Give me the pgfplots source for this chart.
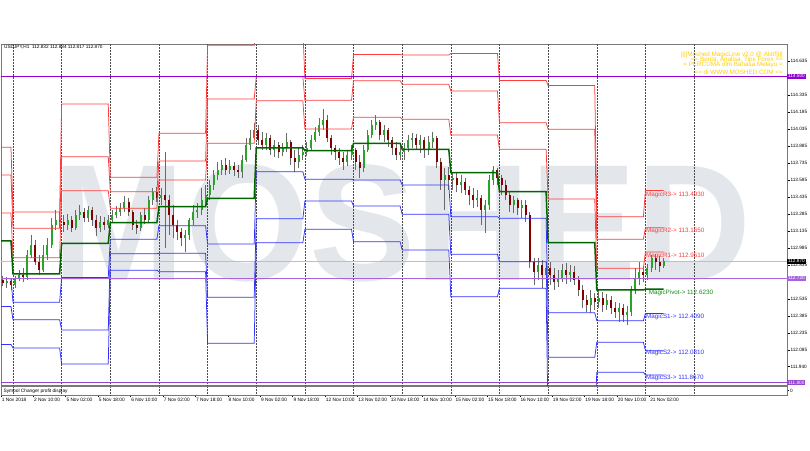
\documentclass[border=0pt]{standalone}
\usepackage{pgfplots}
\pgfplotsset{compat=1.18}
\usepackage{pgfplotstable}
\usepackage{fontspec}
\setmainfont{Liberation Sans}
\definecolor{rl}{RGB}{255,60,60}
\definecolor{sl}{RGB}{50,50,255}
\definecolor{pv}{RGB}{0,100,0}
\definecolor{pvt}{RGB}{20,140,20}
\definecolor{pl1}{RGB}{148,0,211}
\definecolor{pl2}{RGB}{165,100,220}
\definecolor{pl3}{RGB}{150,70,205}
\definecolor{wm}{RGB}{227,231,236}
\definecolor{wick}{RGB}{105,105,105}
\definecolor{bull}{RGB}{40,165,40}
\definecolor{bear}{RGB}{130,0,0}
\definecolor{yel}{RGB}{255,205,0}
\definecolor{frame}{RGB}{120,120,120}
\newcommand{\fy}{\fontsize{4.7}{5}\selectfont}
\newcommand{\fx}{\fontsize{4.8}{5}\selectfont}
\newcommand{\fp}{\fontsize{6.3}{7}\selectfont}
\newcommand{\fyel}{\fontsize{6.3}{6.5}\selectfont}

\pgfplotstableread{
h r3 r2 r1 p s1 s2 s3
-8 113.875 113.630 113.295 113.050 112.715 112.470 112.135
-1 113.875 113.630 113.295 113.050 112.715 112.470 112.135
0 113.303 113.160 112.900 112.757 112.507 112.354 112.104
23 113.303 113.160 112.900 112.757 112.507 112.354 112.104
24 114.256 113.791 113.491 113.027 112.727 112.263 111.963
47 114.256 113.791 113.491 113.027 112.727 112.263 111.963
48 113.609 113.482 113.336 113.209 113.063 112.936 112.790
71 113.609 113.482 113.336 113.209 113.063 112.936 112.790
72 113.997 113.753 113.586 113.350 113.183 112.939 112.777
95 113.997 113.753 113.586 113.350 113.183 112.939 112.777
96 114.775 114.300 113.909 113.424 113.021 112.551 112.146
119 114.775 114.300 113.909 113.424 113.021 112.551 112.146
120 114.911 114.496 114.285 113.870 113.659 113.244 113.033
143 114.911 114.496 114.285 113.870 113.659 113.244 113.033
144 114.480 114.288 114.036 113.844 113.592 113.400 113.151
167 114.480 114.288 114.036 113.844 113.592 113.400 113.151
168 114.692 114.462 114.139 113.909 113.586 113.356 113.041
191 114.692 114.462 114.139 113.909 113.586 113.356 113.041
192 114.688 114.429 114.121 113.856 113.542 113.283 112.968
215 114.688 114.429 114.121 113.856 113.542 113.283 112.968
216 114.702 114.370 113.982 113.650 113.262 112.930 112.557
239 114.702 114.370 113.982 113.650 113.262 112.930 112.557
240 114.464 114.091 113.856 113.483 113.248 112.865 112.631
263 114.464 114.091 113.856 113.483 113.248 112.865 112.631
264 114.418 114.033 113.418 113.033 112.415 112.022 111.415
287 114.418 114.033 113.418 113.033 112.415 112.022 111.415
288 113.262 113.063 112.807 112.616 112.345 112.154 111.890
311 113.262 113.063 112.807 112.616 112.345 112.154 111.890
312 113.493 113.165 112.951 112.623 112.409 112.081 111.867
321 113.493 113.165 112.951 112.623 112.409 112.081 111.867
}\pivots

\pgfplotstableread{
h o hi lo c
-5 112.704 112.739 112.651 112.677
-3 112.677 112.730 112.633 112.695
-1 112.695 112.713 112.616 112.660
1 112.660 112.739 112.633 112.722
3 112.722 112.792 112.695 112.748
5 112.748 112.810 112.686 112.730
7 112.730 112.968 112.704 112.924
9 112.924 113.101 112.898 113.013
11 113.013 113.057 112.836 112.863
13 112.863 112.924 112.748 112.792
15 112.792 113.013 112.775 112.924
17 112.924 113.074 112.880 113.013
19 113.013 113.251 112.986 113.189
21 113.189 113.321 113.145 113.233
23 113.233 113.304 113.162 113.215
25 113.215 113.277 113.127 113.189
27 113.189 113.286 113.145 113.233
29 113.233 113.268 113.127 113.162
31 113.162 113.321 113.145 113.277
33 113.277 113.365 113.233 113.304
35 113.304 113.339 113.215 113.251
37 113.251 113.356 113.215 113.321
39 113.321 113.348 113.180 113.233
41 113.233 113.277 113.092 113.162
43 113.162 113.268 113.127 113.215
45 113.215 113.260 113.145 113.189
47 113.189 113.277 113.162 113.233
49 113.233 113.321 113.215 113.277
51 113.277 113.356 113.251 113.304
53 113.304 113.383 113.268 113.339
55 113.339 113.445 113.304 113.392
57 113.392 113.427 113.268 113.304
59 113.304 113.321 113.145 113.189
61 113.189 113.233 113.110 113.162
63 113.162 113.304 113.136 113.277
65 113.277 113.339 113.198 113.233
67 113.233 113.445 113.215 113.409
69 113.409 113.515 113.365 113.480
71 113.480 113.524 113.392 113.427
73 113.427 113.515 113.365 113.453
75 113.453 113.833 112.986 113.409
77 113.409 113.453 113.101 113.277
79 113.277 113.365 113.074 113.189
81 113.189 113.233 113.057 113.127
83 113.127 113.162 113.004 113.074
85 113.074 113.145 112.951 113.101
87 113.101 113.251 113.057 113.233
89 113.233 113.365 113.189 113.304
91 113.304 113.383 113.251 113.321
93 113.321 113.515 113.277 113.409
95 113.409 113.542 113.365 113.453
97 113.453 113.586 113.409 113.542
99 113.542 113.674 113.498 113.630
101 113.630 113.744 113.586 113.674
103 113.674 113.762 113.630 113.718
105 113.718 113.780 113.630 113.674
107 113.674 113.762 113.639 113.709
109 113.709 113.744 113.621 113.674
111 113.674 113.718 113.603 113.656
113 113.656 113.806 113.603 113.762
115 113.762 113.956 113.744 113.894
117 113.894 114.027 113.850 113.956
119 113.956 114.088 113.939 114.027
121 114.027 114.071 113.894 113.939
123 113.939 114.009 113.850 113.894
125 113.894 114.000 113.850 113.956
127 113.956 113.983 113.806 113.850
129 113.850 113.939 113.789 113.894
131 113.894 113.921 113.780 113.833
133 113.833 113.912 113.797 113.868
135 113.868 114.000 113.833 113.921
137 113.921 113.939 113.718 113.780
139 113.780 113.850 113.656 113.744
141 113.744 113.868 113.692 113.806
143 113.806 113.894 113.762 113.833
145 113.833 113.921 113.797 113.868
147 113.868 113.983 113.850 113.939
149 113.939 114.053 113.921 114.009
151 114.009 114.132 113.974 114.071
153 114.071 114.212 114.027 114.115
155 114.115 114.159 113.921 113.956
157 113.956 113.983 113.806 113.868
159 113.868 113.894 113.762 113.833
161 113.833 113.868 113.718 113.780
163 113.780 113.833 113.674 113.744
165 113.744 113.850 113.709 113.806
167 113.806 113.894 113.762 113.850
169 113.850 113.868 113.674 113.744
171 113.744 113.806 113.603 113.692
173 113.692 113.894 113.656 113.850
175 113.850 114.027 113.833 113.983
177 113.983 114.115 113.956 114.071
179 114.071 114.159 114.027 114.097
181 114.097 114.115 113.939 113.983
183 113.983 114.071 113.921 114.027
185 114.027 114.044 113.877 113.939
187 113.939 113.965 113.806 113.868
189 113.868 113.921 113.762 113.806
191 113.806 113.894 113.762 113.833
193 113.833 113.912 113.762 113.868
195 113.868 113.983 113.833 113.939
197 113.939 114.000 113.868 113.956
199 113.956 113.991 113.850 113.894
201 113.894 113.983 113.824 113.939
203 113.939 113.965 113.780 113.850
205 113.850 113.974 113.806 113.921
207 113.921 114.009 113.868 113.956
209 113.956 113.974 113.692 113.744
211 113.744 113.780 113.498 113.586
213 113.586 113.692 113.321 113.630
215 113.630 113.700 113.498 113.586
217 113.586 113.656 113.498 113.603
219 113.603 113.648 113.480 113.542
221 113.542 113.630 113.471 113.568
223 113.568 113.603 113.453 113.498
225 113.498 113.533 113.365 113.453
227 113.453 113.515 113.339 113.409
229 113.409 113.498 113.348 113.427
231 113.427 113.453 113.189 113.321
233 113.321 113.409 113.118 113.365
235 113.365 113.630 113.321 113.586
237 113.586 113.709 113.542 113.674
239 113.674 113.692 113.542 113.603
241 113.603 113.630 113.453 113.542
243 113.542 113.586 113.409 113.453
245 113.453 113.480 113.304 113.365
247 113.365 113.445 113.295 113.409
249 113.409 113.427 113.277 113.339
251 113.339 113.409 113.251 113.365
253 113.365 113.409 113.215 113.277
255 113.277 113.304 112.810 112.863
257 112.863 112.898 112.660 112.775
259 112.775 112.898 112.704 112.836
261 112.836 112.880 112.633 112.748
263 112.748 112.863 112.686 112.810
265 112.810 112.863 112.660 112.748
267 112.748 112.810 112.616 112.686
269 112.686 112.792 112.642 112.722
271 112.722 112.845 112.686 112.792
273 112.792 112.854 112.669 112.748
275 112.748 112.836 112.686 112.775
277 112.775 112.827 112.660 112.704
279 112.704 112.739 112.563 112.616
281 112.616 112.660 112.457 112.527
283 112.527 112.572 112.422 112.483
285 112.483 112.616 112.413 112.545
287 112.545 112.589 112.439 112.510
289 112.510 112.616 112.457 112.545
291 112.545 112.598 112.422 112.483
293 112.483 112.581 112.439 112.527
295 112.527 112.563 112.404 112.457
297 112.457 112.510 112.369 112.422
299 112.422 112.501 112.334 112.457
301 112.457 112.492 112.334 112.395
303 112.395 112.475 112.307 112.422
305 112.422 112.651 112.387 112.616
307 112.616 112.810 112.581 112.722
309 112.722 112.863 112.660 112.775
311 112.775 112.827 112.686 112.748
313 112.748 112.845 112.704 112.810
315 112.810 112.924 112.775 112.898
317 112.898 112.933 112.792 112.863
319 112.863 112.916 112.775 112.827
321 112.827 112.898 112.810 112.870
}\candles

\begin{document}
\begin{tikzpicture}[x=1pt,y=1pt]
\useasboundingbox (0,0) rectangle (810,450);
% watermark
\node[inner sep=0pt, text=wm, xscale=0.96] at (402,226.5) {\fontsize{166}{166}\selectfont\bfseries MOSHED};

\begin{axis}[
  at={(1pt,65pt)}, anchor=south west, scale only axis,
  width=786pt, height=341pt,
  xmin=-5.92, xmax=381.85, ymin=111.778, ymax=114.785,
  clip mode=individual,
  axis line style={draw=frame, line width=0.8pt},
  xtick=\empty,
  extra x ticks={0,24,...,336}, extra x tick labels={},
  extra x tick style={grid=major, major tick length=0pt},
  major grid style={black!70, line width=0.4pt, dash pattern=on 0.5pt off 1pt},
  ytick={111.940,112.085,112.235,112.385,112.535,112.835,112.985,113.135,113.285,113.435,113.585,113.735,113.885,114.035,114.185,114.335,114.635},
  yticklabels={111.940,112.085,112.235,112.385,112.535,112.835,112.985,113.135,113.285,113.435,113.585,113.735,113.885,114.035,114.185,114.335,114.635},
  ytick pos=right, yticklabel pos=right,
  tick align=outside, major tick length=2.5pt,
  tick style={black, line width=0.5pt},
  yticklabel style={font=\fy, inner sep=0.8pt},
]
% bid line
\addplot[forget plot, black!25, line width=0.7pt] coordinates {(-6,112.870) (382,112.870)};
% candles: wicks
\addplot[forget plot, draw=none, mark=none,
  error bars/.cd, y dir=plus, y explicit, error mark=none,
  error bar style={line width=0.85pt, draw=wick, solid}]
  table[x=h, y=lo, y error expr=\thisrow{hi}-\thisrow{lo}] {\candles};
% bull bodies
\addplot[forget plot, draw=none, mark=none, unbounded coords=discard,
  x filter/.expression={\thisrow{c}>=\thisrow{o} ? x : nan},
  error bars/.cd, y dir=plus, y explicit, error mark=none,
  error bar style={line width=2pt, draw=bull, solid}]
  table[x=h, y=o, y error expr={max(\thisrow{c}-\thisrow{o},0.006)}] {\candles};
% bear bodies
\addplot[forget plot, draw=none, mark=none, unbounded coords=discard,
  x filter/.expression={\thisrow{c}<\thisrow{o} ? x : nan},
  error bars/.cd, y dir=plus, y explicit, error mark=none,
  error bar style={line width=2pt, draw=bear, solid}]
  table[x=h, y=c, y error expr={max(\thisrow{o}-\thisrow{c},0.006)}] {\candles};
% pivot levels
\addplot[forget plot, rl, line width=0.75pt] table[x=h,y=r3]{\pivots};
\addplot[forget plot, rl, line width=0.75pt] table[x=h,y=r2]{\pivots};
\addplot[forget plot, rl, line width=0.75pt] table[x=h,y=r1]{\pivots};
\addplot[forget plot, sl, line width=0.75pt] table[x=h,y=s1]{\pivots};
\addplot[forget plot, sl, line width=0.75pt] table[x=h,y=s2]{\pivots};
\addplot[forget plot, sl, line width=0.75pt] table[x=h,y=s3]{\pivots};
\addplot[forget plot, pv, line width=1.5pt] table[x=h,y=p]{\pivots};
% purple levels
\addplot[forget plot, pl1, line width=1.3pt] coordinates {(-6,114.500) (382,114.500)};
\addplot[forget plot, pl2, line width=0.9pt] coordinates {(-6,112.720) (382,112.720)};
\addplot[forget plot, pl3, line width=0.9pt] coordinates {(-6,111.800) (382,111.800)};
% pivot labels
\node[anchor=west, font=\fp, text=rl, inner sep=0pt, yshift=-4pt] at (axis cs:312.3,113.493) {MagicR3-> 113.4930};
\node[anchor=west, font=\fp, text=rl, inner sep=0pt, yshift=-3.6pt] at (axis cs:312.3,113.165) {MagicR2-> 113.1650};
\node[anchor=west, font=\fp, text=rl, inner sep=0pt, yshift=-3.4pt] at (axis cs:312.3,112.951) {MagicR1-> 112.9510};
\node[anchor=west, font=\fp, text=pvt, inner sep=0pt, yshift=-3.2pt] at (axis cs:313.6,112.623) {MagicPivot-> 112.6230};
\node[anchor=west, font=\fp, text=sl, inner sep=0pt, yshift=-3.3pt] at (axis cs:312.3,112.409) {MagicS1-> 112.4090};
\node[anchor=west, font=\fp, text=sl, inner sep=0pt, yshift=-2.6pt] at (axis cs:312.3,112.081) {MagicS2-> 112.0810};
\node[anchor=west, font=\fp, text=sl, inner sep=0pt, yshift=-3pt] at (axis cs:312.3,111.867) {MagicS3-> 111.8670};
% price boxes on the right
\node[anchor=west, fill=pl1, text=white, font=\fy, inner sep=0.9pt] at (axis cs:381.85,114.500) {114.500};
\node[anchor=west, fill=black, text=white, font=\fy, inner sep=0.9pt] at (axis cs:381.85,112.870) {112.870};
\node[anchor=west, fill=pl2, text=white, font=\fy, inner sep=0.9pt] at (axis cs:381.85,112.720) {112.720};
\node[anchor=west, fill=pl3, text=white, font=\fy, inner sep=0.9pt] at (axis cs:381.85,111.800) {111.800};
\end{axis}

% sub window
\begin{axis}[
  at={(1pt,55pt)}, anchor=south west, scale only axis,
  width=786pt, height=9pt,
  xmin=-5.92, xmax=381.85, ymin=-1, ymax=1,
  axis line style={draw=frame, line width=0.8pt},
  xtick={-5.92,10,26,42,58,74,90,106,122,138,154,170,186,202,218,234,250,266,282,298,314},
  xticklabels={1 Nov 2018,2 Nov 10:00,5 Nov 02:00,5 Nov 18:00,6 Nov 10:00,7 Nov 02:00,7 Nov 18:00,8 Nov 10:00,9 Nov 02:00,9 Nov 18:00,12 Nov 10:00,13 Nov 02:00,13 Nov 18:00,14 Nov 10:00,15 Nov 02:00,15 Nov 18:00,16 Nov 10:00,19 Nov 02:00,19 Nov 18:00,20 Nov 10:00,21 Nov 02:00},
  xtick pos=bottom,
  xticklabel style={anchor=north west, font=\fx, inner sep=0.6pt},
  extra x ticks={0,24,...,336}, extra x tick labels={},
  extra x tick style={grid=major, major tick length=0pt},
  major grid style={black!70, line width=0.4pt, dash pattern=on 0.5pt off 1pt},
  ytick={0}, yticklabels={0}, ytick pos=right, yticklabel pos=right,
  tick align=outside, major tick length=2pt,
  tick style={black, line width=0.5pt},
  yticklabel style={font=\fy, inner sep=0.8pt},
]
\node[anchor=west, font=\fx, inner sep=0pt] at (rel axis cs:0.003,0.45) {Symbol Changer profit display};
\end{axis}

% header texts
\node[anchor=west, font=\fy, inner sep=0pt] at (4,402.7) {USDJPY,H1\ \ 112.832 112.884 112.817 112.870};
\node[anchor=east, font=\fyel, text=yel, inner sep=0pt] at (783,395.5) {|||[Moshed MagicLine v2.0 @ Aktif]|||};
\node[anchor=east, font=\fyel, text=yel, inner sep=0pt] at (783,390.3) {== Berita, Analisa, Tips Forex ==};
\node[anchor=east, font=\fyel, text=yel, inner sep=0pt] at (783,385.1) {= PERCUMA dlm Bahasa Melayu =};
\node[anchor=east, font=\fyel, text=yel, inner sep=0pt] at (783,377.5) {=> di WWW.MOSHED.COM <=};
\end{tikzpicture}
\end{document}
